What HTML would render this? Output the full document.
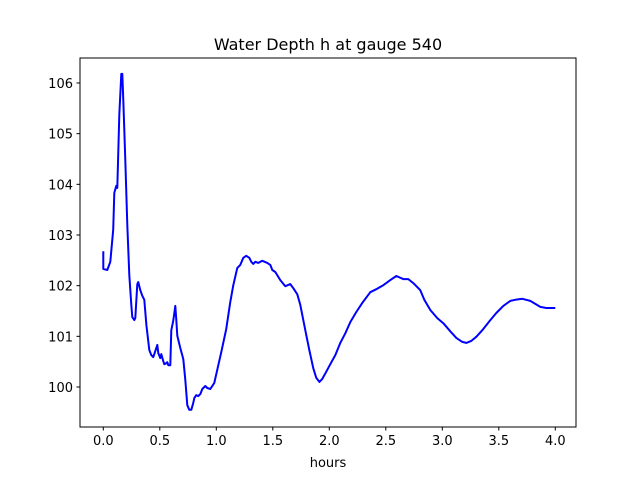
<!DOCTYPE html>
<html><head><meta charset="utf-8"><style>
body{margin:0;background:#fff}
svg{display:block;font-family:"DejaVu Sans","Liberation Sans",sans-serif}
</style></head><body>
<svg id="chart" width="640" height="480" viewBox="0 0 640 480">
<rect width="640" height="480" fill="#fff"/>
<text x="328" y="50" text-anchor="middle" font-size="16">Water Depth h at gauge 540</text>
<g id="ticks"></g>
<path id="line" fill="none" stroke="#0000ff" stroke-width="2" stroke-linejoin="round"/>
<rect x="80" y="58" width="496" height="369" fill="none" stroke="#000" stroke-width="1"/>
<text x="328" y="467" text-anchor="middle" font-size="13">hours</text>
</svg>
<script>
const hours=[0,0,0.035,0.062,0.088,0.097,0.115,0.124,0.142,0.159,0.168,0.177,0.195,0.212,0.23,0.248,0.257,0.274,0.283,0.301,0.31,0.327,0.345,0.363,0.381,0.407,0.425,0.442,0.451,0.478,0.487,0.504,0.513,0.531,0.54,0.558,0.566,0.575,0.593,0.602,0.619,0.637,0.646,0.655,0.681,0.708,0.726,0.743,0.761,0.779,0.796,0.805,0.823,0.841,0.858,0.876,0.903,0.92,0.947,0.982,1.018,1.044,1.088,1.124,1.15,1.186,1.212,1.239,1.265,1.292,1.31,1.327,1.345,1.372,1.407,1.451,1.478,1.496,1.522,1.566,1.611,1.655,1.681,1.717,1.743,1.788,1.823,1.858,1.885,1.912,1.938,1.973,2.009,2.053,2.097,2.142,2.186,2.239,2.292,2.363,2.416,2.478,2.54,2.593,2.655,2.699,2.743,2.805,2.841,2.894,2.956,3.009,3.071,3.124,3.177,3.212,3.257,3.301,3.354,3.425,3.478,3.54,3.602,3.646,3.708,3.779,3.823,3.867,3.92,4.0];
const depth=[102.68,102.33,102.31,102.47,103.1,103.83,103.97,103.93,105.37,106.18,106.18,105.66,104.48,103.2,102.21,101.62,101.38,101.32,101.36,102.03,102.07,101.91,101.8,101.72,101.22,100.73,100.63,100.59,100.65,100.83,100.67,100.57,100.65,100.51,100.45,100.47,100.49,100.43,100.43,101.12,101.3,101.6,101.32,101.01,100.77,100.55,100.14,99.64,99.55,99.55,99.68,99.78,99.84,99.82,99.86,99.96,100.02,99.98,99.96,100.08,100.43,100.69,101.14,101.68,102.01,102.35,102.41,102.55,102.59,102.55,102.47,102.43,102.47,102.45,102.49,102.45,102.41,102.31,102.27,102.11,101.99,102.03,101.95,101.83,101.62,101.12,100.73,100.37,100.18,100.1,100.16,100.3,100.45,100.63,100.87,101.06,101.28,101.48,101.66,101.87,101.93,102.01,102.11,102.19,102.13,102.13,102.05,101.91,101.72,101.52,101.36,101.26,101.1,100.97,100.89,100.87,100.91,100.99,101.12,101.32,101.46,101.6,101.7,101.72,101.74,101.7,101.64,101.58,101.56,101.56];
const xTicks=[0,0.5,1,1.5,2,2.5,3,3.5,4];
const xTickLabels=["0.0","0.5","1.0","1.5","2.0","2.5","3.0","3.5","4.0"];
const yTicks=[100,101,102,103,104,105,106];
const yTickLabels=["100","101","102","103","104","105","106"];
const X=h=>103.3+h*113;
const Y=v=>387-(v-100)*50.67;
const ns="http://www.w3.org/2000/svg";
const g=document.getElementById('ticks');
function mk(tag,attrs){const e=document.createElementNS(ns,tag);for(const k in attrs)e.setAttribute(k,attrs[k]);return e;}
xTicks.forEach((t,i)=>{
  const l=mk('line',{x1:X(t),x2:X(t),y1:427,y2:430.5,stroke:'#000'});
  
  
  g.appendChild(l);
  const tx=mk('text',{x:X(t),y:445,'text-anchor':'middle','font-size':'13'});
  
  
  tx.textContent=xTickLabels[i];g.appendChild(tx);
});
yTicks.forEach((t,i)=>{
  const l=mk('line',{x1:76.5,x2:80,y1:Y(t),y2:Y(t),stroke:'#000'});
  
  
  g.appendChild(l);
  const tx=mk('text',{x:73,y:Y(t)+5,'text-anchor':'end','font-size':'13'});
  
  
  tx.textContent=yTickLabels[i];g.appendChild(tx);
});
document.getElementById('line').setAttribute('d',hours.map((h,i)=>(i?'L':'M')+X(h).toFixed(1)+','+Y(depth[i]).toFixed(1)).join(''));
</script>
</body></html>
